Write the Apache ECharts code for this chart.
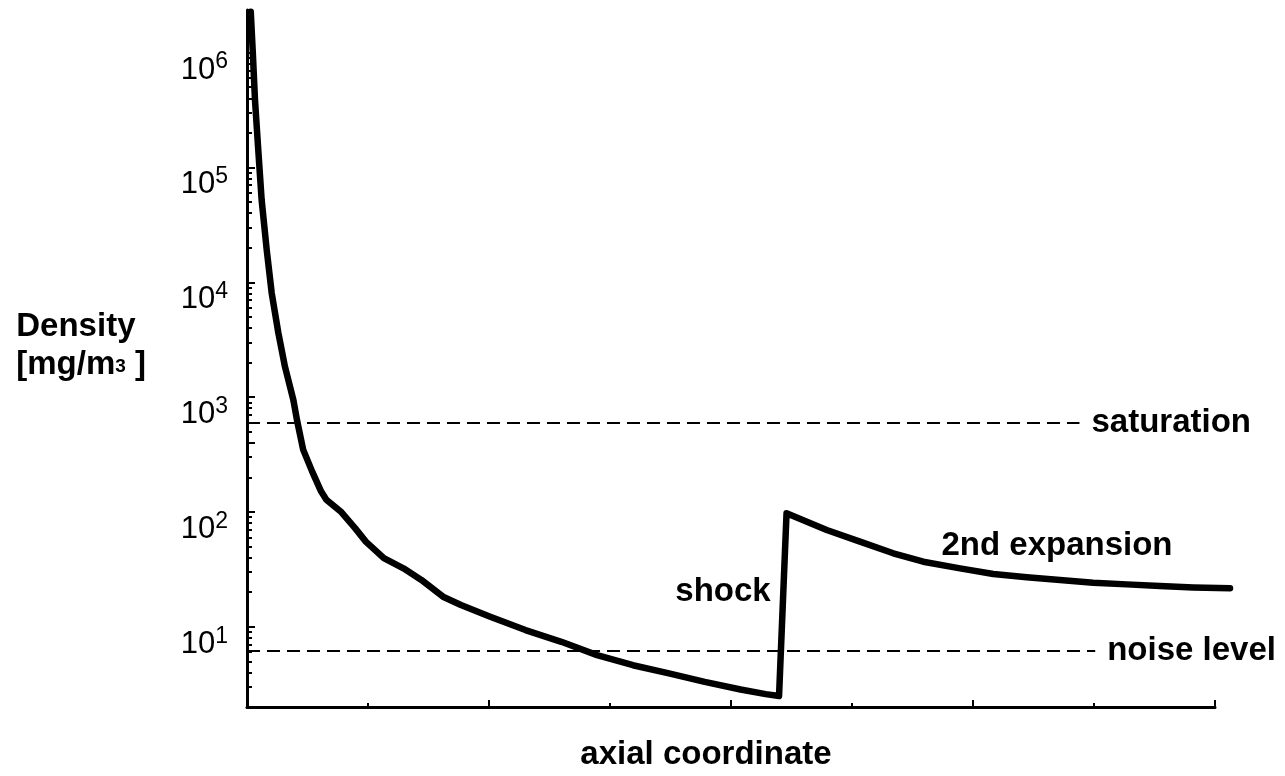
<!DOCTYPE html>
<html>
<head>
<meta charset="utf-8">
<script src="https://cdn.jsdelivr.net/npm/echarts@6/dist/echarts.min.js"></script>
<style>
html,body{margin:0;padding:0;background:#fff;}
#chart{width:1285px;height:776px;}
</style>
</head>
<body>
<div id="chart"></div>
<script>
// ---- data ----
const axial = [0.031,0.047,0.066,0.093,0.121,0.163,0.204,0.259,0.314,0.383,0.413,0.464,0.538,0.612,0.656,0.774,0.893,0.982,1.131,1.293,1.441,1.620,1.768,2.005,2.301,2.598,2.893,3.190,3.487,3.783,4.079,4.287,4.397,4.459,4.791,5.066,5.341,5.589,5.893,6.168,6.444,6.719,6.994,7.270,7.545,7.821,8.124];
const density = [2.27e6,1.06e6,3.94e5,1.46e5,5.39e4,1.99e4,8470,3830,1950,1010,678,376,244,164,139,110,78.9,60.4,43.4,35.5,28.2,20.2,17.1,13.6,10.4,8.24,6.32,5.17,4.39,3.71,3.19,2.91,2.80,106,76.1,60.3,47.9,40.5,35.5,31.7,29.7,28.2,26.7,25.8,25.0,24.3,23.9];
const decadeExponents = [1,2,3,4,5,6];
const extraMajorTicks = [400];
const minorMultipliers = [2,3,4,5,6,7,8,9];
const xMajorTicks = [2,4,6,8];
const xMinorTicks = [1,3,5,7];
const saturationLevel = 640;
const noiseLevel = 6.86;
const saturationEndX = 6.88;
const noiseEndX = 7.01;
const shockLabel = {text:'shock', x:3.934, y:22.0};
const expansionLabel = {text:'2nd expansion', x:6.694, y:55.0};
const densityMin = 2;
const densityMax = 2.35e6;
const axisEndX = 8;        // where the drawn x axis stops
const dataEndX = 8.124;    // the curve runs a little past the axis end

// ---- build ----
const L = Math.log10;
const seriesData = axial.map((x,i)=>[x, L(density[i])]);
const majorTickVals = decadeExponents.concat(extraMajorTicks.map(L));
const minorTickVals = [];
for (let n=0;n<=6;n++) for (const k of minorMultipliers) {
  const v = L(k*Math.pow(10,n));
  if (v>=L(densityMin) && v<=L(densityMax)) minorTickVals.push(v);
}
const FONT = "'Liberation Sans', Arial, Helvetica, sans-serif";
const FS = 33;
const black = '#000';
const yMin = L(densityMin), yMax = L(densityMax);
const pxPerUnit = (1285 - 247 - 70) / axisEndX;
const rightData = Math.round(1285 - 247 - dataEndX * pxPerUnit);

const chart = echarts.init(document.getElementById('chart'), null, {renderer:'canvas'});
chart.setOption({
  animation:false,
  backgroundColor:'#fff',
  grid:[
    {left:247, right:70, top:10, bottom:63, containLabel:false},
    {left:247, right:rightData, top:10, bottom:63, containLabel:false}
  ],
  xAxis:[{
    gridIndex:0, type:'value', min:0, max:axisEndX,
    axisLine:{show:true, onZero:false, lineStyle:{color:black, width:3}},
    axisTick:{show:true, inside:true, length:7, lineStyle:{color:black, width:2}, customValues:xMajorTicks},
    axisLabel:{show:false},
    splitLine:{show:false},
    name:'axial coordinate', nameLocation:'middle', nameGap:31,
    nameTextStyle:{color:black, fontFamily:FONT, fontWeight:'bold', fontSize:FS, padding:[0,50,0,0]}
  },{
    gridIndex:0, type:'value', min:0, max:axisEndX, position:'bottom',
    axisLine:{show:false},
    axisTick:{show:true, inside:true, length:4, lineStyle:{color:black, width:2}, customValues:xMinorTicks},
    axisLabel:{show:false}, splitLine:{show:false}
  },{
    gridIndex:1, type:'value', min:0, max:dataEndX, show:false
  }],
  yAxis:[{
    gridIndex:0, type:'value', min:yMin, max:yMax, position:'left',
    axisLine:{show:true, onZero:false, lineStyle:{color:black, width:3}},
    axisTick:{show:true, inside:true, length:8, lineStyle:{color:black, width:2}, customValues:majorTickVals},
    axisLabel:{
      show:true, margin:19, customValues:decadeExponents,
      formatter:function(v){ return '{b|10}{s|' + Math.round(v) + '}'; },
      padding:[31,0,0,0],
      rich:{
        b:{fontFamily:FONT, fontSize:31, color:black, lineHeight:35, verticalAlign:'bottom'},
        s:{fontFamily:FONT, fontSize:23, color:black, lineHeight:12, verticalAlign:'top'}
      }
    },
    splitLine:{show:false},
    name:'{t|Density}\n{t|[mg/m}{u|3}{t| ]}', nameLocation:'middle', nameRotate:0, nameGap:101,
    nameTextStyle:{
      padding:[0,0,26,0],
      rich:{
        t:{fontFamily:FONT, fontWeight:'bold', fontSize:FS, color:black, lineHeight:38, align:'left'},
        u:{fontFamily:FONT, fontWeight:'bold', fontSize:19, color:black, lineHeight:28, verticalAlign:'bottom', align:'left', padding:[0,0,7,0]}
      }
    }
  },{
    gridIndex:0, type:'value', min:yMin, max:yMax, position:'left',
    axisLine:{show:false},
    axisTick:{show:true, inside:true, length:5, lineStyle:{color:black, width:2}, customValues:minorTickVals},
    axisLabel:{show:false}, splitLine:{show:false}
  },{
    gridIndex:1, type:'value', min:yMin, max:yMax, show:false
  }],
  series:[{
    type:'line', data:seriesData, xAxisIndex:2, yAxisIndex:2,
    showSymbol:false, symbol:'none', clip:false, smooth:false,
    lineStyle:{color:black, width:6.5, cap:'round', join:'round'},
    markLine:{
      silent:true, symbol:'none',
      lineStyle:{color:black, width:2, type:[13,7]},
      label:{show:true, position:'end', distance:12, color:black, fontFamily:FONT, fontWeight:'bold', fontSize:FS},
      data:[
        [{coord:[0, L(saturationLevel)], label:{formatter:'saturation'}}, {coord:[saturationEndX, L(saturationLevel)]}],
        [{coord:[0, L(noiseLevel)], label:{formatter:'noise level'}}, {coord:[noiseEndX, L(noiseLevel)]}]
      ]
    },
    markPoint:{
      silent:true, symbol:'circle', symbolSize:0,
      label:{show:true, position:'inside', color:black, fontFamily:FONT, fontWeight:'bold', fontSize:FS, formatter:'{b}'},
      data:[
        {name:shockLabel.text, coord:[shockLabel.x, L(shockLabel.y)]},
        {name:expansionLabel.text, coord:[expansionLabel.x, L(expansionLabel.y)]}
      ]
    }
  }]
});
</script>
</body>
</html>
